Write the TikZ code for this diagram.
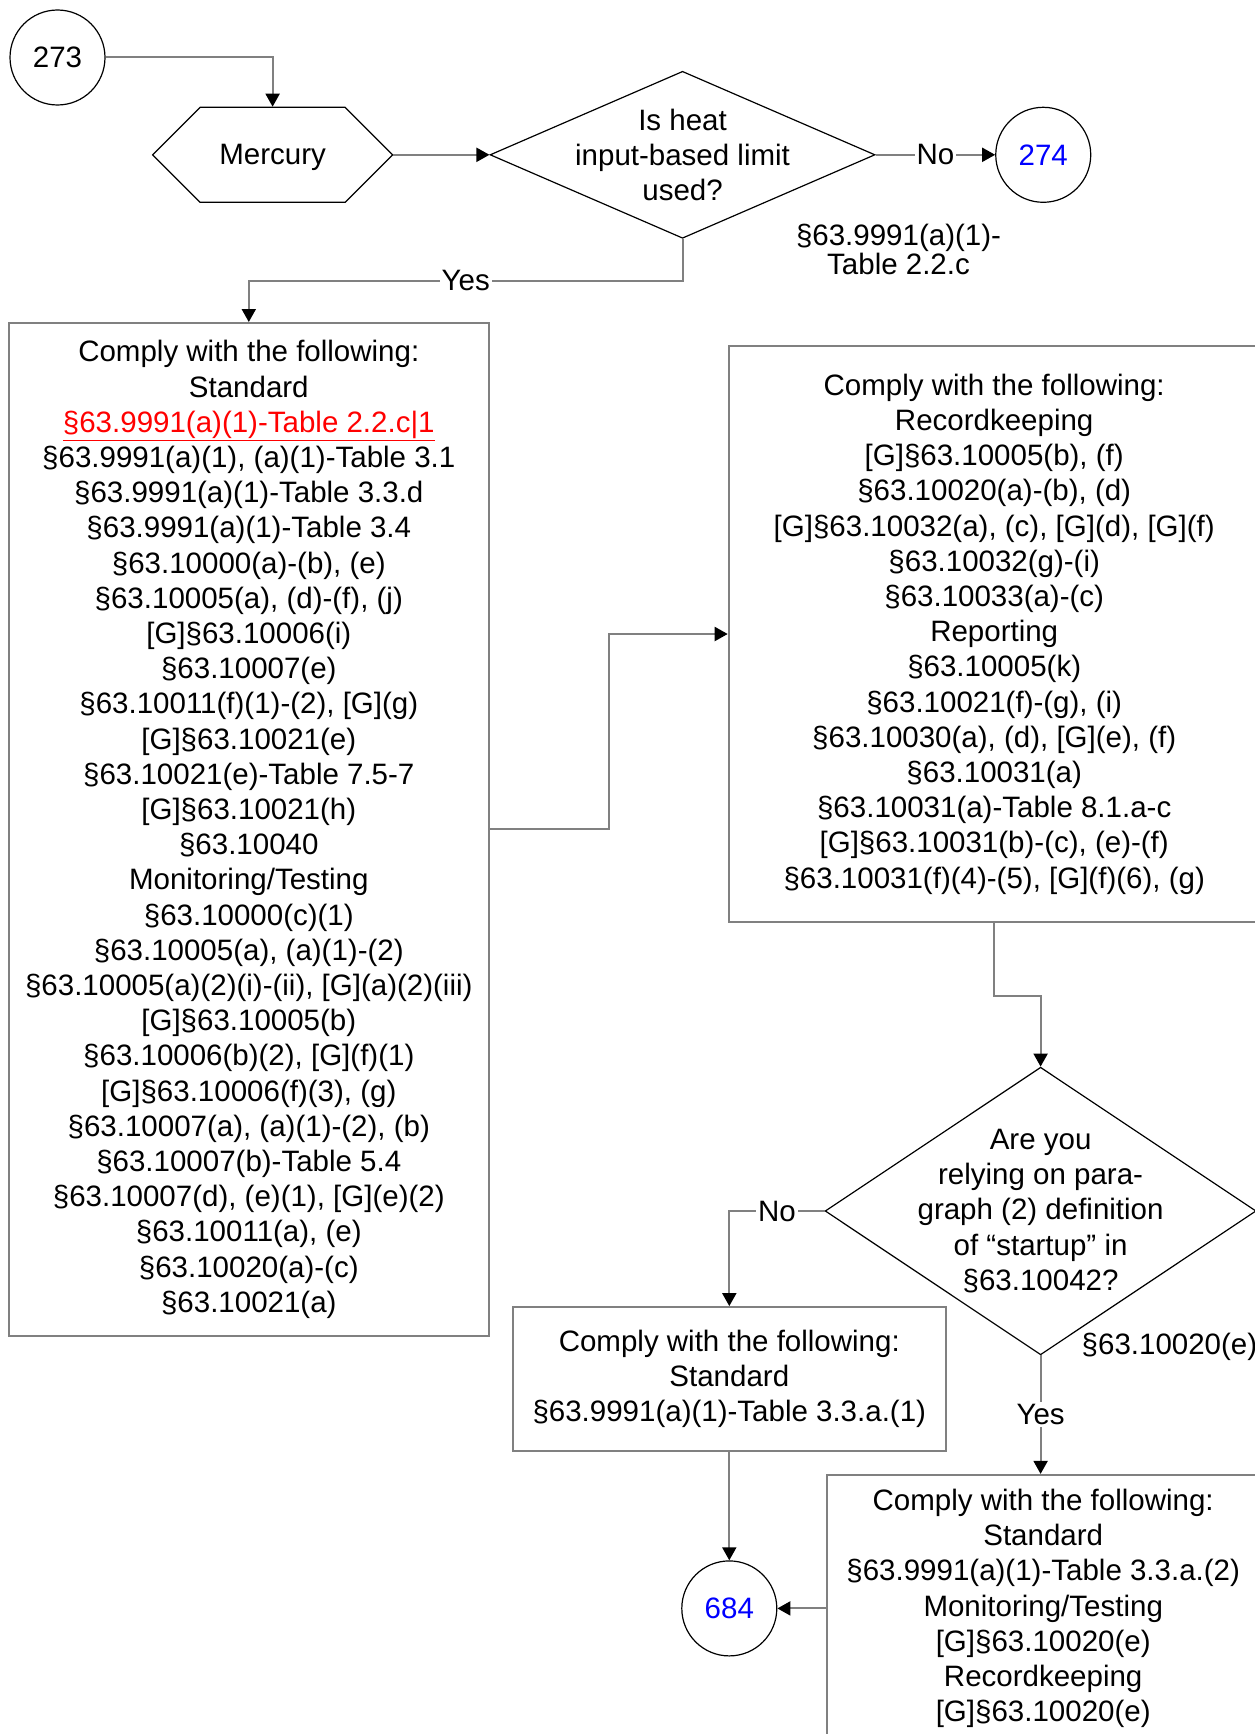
\documentclass[tikz,border=0pt]{standalone}
\usepackage{fontspec}
\setmainfont{Liberation Sans}
\usepackage{tikz}
\usetikzlibrary{arrows.meta,positioning,shapes.geometric,shapes.symbols}
\usepackage{xcolor}
\definecolor{LineGray}{RGB}{128,128,128}
\definecolor{LinkRed}{RGB}{255,0,0}
\definecolor{PageBlue}{RGB}{0,0,255}
\newcommand{\flowfont}{\fontsize{29.5pt}{35.2pt}\selectfont}
\newcommand{\notefont}{\fontsize{29.5pt}{29pt}\selectfont}
\tikzset{
  rulebox/.style={draw=LineGray,line width=2pt,rectangle,align=center,
    inner sep=0pt,font=\flowfont},
  decision/.style={draw=black,diamond,line width=1.2pt,inner sep=0pt},
  question/.style={align=center,inner sep=0pt,font=\flowfont},
  offpage/.style={draw=black,circle,line width=1.2pt,minimum size=95pt,
    inner sep=0pt,font=\flowfont},
  hexbox/.style={draw=black,signal,signal to=west and east,
    signal pointer angle=90,line width=1.2pt,minimum width=240pt,
    minimum height=95pt,inner sep=0pt,text depth=0pt,font=\flowfont},
  flowarrow/.style={-{Triangle[length=13pt,width=14pt,color=black]},
    line width=2pt,draw=LineGray},
  answer/.style={fill=white,inner sep=2pt,font=\flowfont},
  note/.style={align=center,inner sep=0pt,font=\notefont},
}
\begin{document}
\begin{tikzpicture}[x=1pt,y=-1pt]
  \useasboundingbox (0,0) rectangle (1254,1734);
  % top row
  \node[offpage] (c273) at (57.5,57.5) {273};
  \node[hexbox] (mercury) at (272.6,154.8) {Mercury};
  \node[decision,minimum width=385pt,minimum height=167pt,
        right=96pt of mercury] (heat) {};
  \node[question] (heatq) at (heat) {Is heat\\input-based limit\\used?};
  \node[offpage,text=PageBlue,right=119.5pt of heat] (c274) {274};
  \node[note] (heatref) at (898.5,249) {§63.9991(a)(1)-\\Table 2.2.c};
  % big boxes
  \node[rulebox,minimum width=480pt,minimum height=1012.8pt]
        (stdbox) at (248.8,829.4) {Comply with the following:\\Standard\\
    \textcolor{LinkRed}{\underline{§63.9991(a)(1)-Table 2.2.c|1}}\\
    §63.9991(a)(1), (a)(1)-Table 3.1\\
    §63.9991(a)(1)-Table 3.3.d\\
    §63.9991(a)(1)-Table 3.4\\
    §63.10000(a)-(b), (e)\\
    §63.10005(a), (d)-(f), (j)\\
    {}[G]§63.10006(i)\\
    §63.10007(e)\\
    §63.10011(f)(1)-(2), [G](g)\\
    {}[G]§63.10021(e)\\
    §63.10021(e)-Table 7.5-7\\
    {}[G]§63.10021(h)\\
    §63.10040\\
    Monitoring/Testing\\
    §63.10000(c)(1)\\
    §63.10005(a), (a)(1)-(2)\\
    §63.10005(a)(2)(i)-(ii), [G](a)(2)(iii)\\
    {}[G]§63.10005(b)\\
    §63.10006(b)(2), [G](f)(1)\\
    {}[G]§63.10006(f)(3), (g)\\
    §63.10007(a), (a)(1)-(2), (b)\\
    §63.10007(b)-Table 5.4\\
    §63.10007(d), (e)(1), [G](e)(2)\\
    §63.10011(a), (e)\\
    §63.10020(a)-(c)\\
    §63.10021(a)};
  \node[rulebox,minimum width=531pt,minimum height=576pt]
        (recbox) at (994.2,634) {Comply with the following:\\Recordkeeping\\
    {}[G]§63.10005(b), (f)\\
    §63.10020(a)-(b), (d)\\
    {}[G]§63.10032(a), (c), [G](d), [G](f)\\
    §63.10032(g)-(i)\\
    §63.10033(a)-(c)\\
    Reporting\\
    §63.10005(k)\\
    §63.10021(f)-(g), (i)\\
    §63.10030(a), (d), [G](e), (f)\\
    §63.10031(a)\\
    §63.10031(a)-Table 8.1.a-c\\
    {}[G]§63.10031(b)-(c), (e)-(f)\\
    §63.10031(f)(4)-(5), [G](f)(6), (g)};
  % startup question
  \node[decision,minimum width=431pt,minimum height=287.6pt]
        (startup) at (1040.6,1211) {};
  \node[question] (startupq) at (startup) {Are you\\relying on para-\\
    graph (2) definition\\of “startup” in\\§63.10042?};
  \node[note,anchor=west] (startupref) at (1081.5,1347) {§63.10020(e)};
  \node[rulebox,minimum width=432.5pt,minimum height=143.8pt]
        (nobox) at (729.3,1379) {Comply with the following:\\Standard\\
    §63.9991(a)(1)-Table 3.3.a.(1)};
  \node[offpage,text=PageBlue,below=108.4pt of nobox] (c684) {684};
  \node[rulebox,minimum width=432pt,minimum height=267pt,
        right=48.8pt of c684] (yesbox) {Comply with the following:\\Standard\\
    §63.9991(a)(1)-Table 3.3.a.(2)\\
    Monitoring/Testing\\
    {}[G]§63.10020(e)\\
    Recordkeeping\\
    {}[G]§63.10020(e)};
  % connectors
  \draw[flowarrow] (c273.east) -| (mercury.north);
  \draw[flowarrow] (mercury.east) -- (heat.west);
  \draw[flowarrow] (heat.east) -- node[answer] (no1) {No} (c274.west);
  \draw[flowarrow] (heat.south) -- ++(0,42) -| node[answer,pos=0.25] (yes1) {Yes} (stdbox.north);
  \draw[flowarrow] (stdbox.east) -- ++(119.4,0) |- (recbox.west);
  \draw[flowarrow] (recbox.south) -- ++(0,73) -| (startup.north);
  \draw[flowarrow] (startup.west) -| node[answer,pos=0.25] (no2) {No} (nobox.north);
  \draw[flowarrow] (startup.south) -- node[answer] (yes2) {Yes} (startup.south |- yesbox.north);
  \draw[flowarrow] (nobox.south) -- (c684.north);
  \draw[flowarrow] (yesbox.west) -- (c684.east);
\end{tikzpicture}
\end{document}
